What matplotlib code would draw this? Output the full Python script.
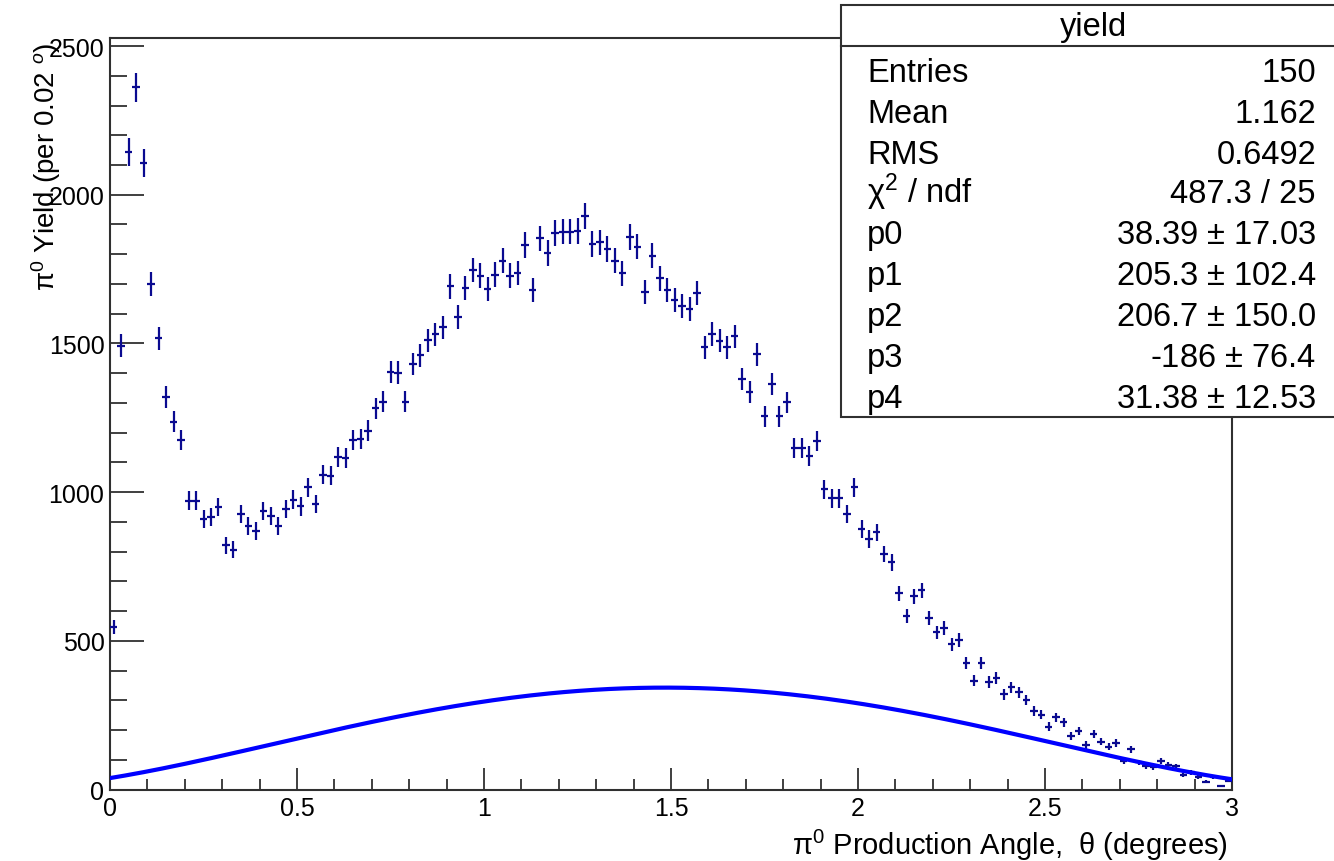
import numpy as np
import matplotlib
matplotlib.use("Agg")
import matplotlib.pyplot as plt
from matplotlib.patches import Rectangle
from matplotlib.lines import Line2D
from matplotlib.ticker import MultipleLocator

plt.rcParams["font.family"] = ["Liberation Sans", "DejaVu Sans"]
plt.rcParams["mathtext.fontset"] = "custom"
plt.rcParams["mathtext.rm"] = "Liberation Sans"
plt.rcParams["mathtext.it"] = "Liberation Sans:italic"
plt.rcParams["mathtext.bf"] = "Liberation Sans:bold"

# pi0 yield per 0.02 degree bin, 0 to 3 degrees
bin_width = 0.02
bin_low, bin_high = 0.0, 3.0
yield_counts = [
    546, 1492, 2143, 2361, 2107, 1700, 1517, 1319, 1237, 1175,
    971, 971, 910, 916, 950, 822, 807, 926, 887, 870,
    937, 921, 887, 943, 975, 952, 1016, 960, 1059, 1055,
    1117, 1114, 1175, 1178, 1207, 1282, 1304, 1405, 1402, 1304,
    1430, 1460, 1510, 1530, 1554, 1692, 1590, 1687, 1747, 1728,
    1683, 1731, 1778, 1728, 1737, 1831, 1680, 1853, 1804, 1871,
    1876, 1876, 1879, 1929, 1834, 1840, 1817, 1778, 1736, 1857,
    1825, 1674, 1795, 1719, 1680, 1647, 1625, 1616, 1669, 1487,
    1532, 1509, 1487, 1524, 1380, 1336, 1464, 1255, 1364, 1255,
    1302, 1148, 1148, 1122, 1171, 1010, 979, 979, 926, 1016,
    876, 842, 865, 792, 764, 660, 584, 650, 670, 576,
    528, 542, 489, 503, 425, 366, 425, 362, 375, 320,
    344, 327, 302, 265, 252, 211, 243, 226, 181, 196,
    150, 187, 161, 144, 156, 97, 136, 91, 78, 75,
    97, 82, 78, 49, 58, 41, 26, 43, 13, 30,
]

# pol4 fit parameters
fit_params = [38.39, 205.3, 206.7, -186.0, 31.38]

stat_title = "yield"
stat_labels = ["Entries", "Mean", "RMS", r"$\mathrm{\chi}^{2}$ / ndf",
               "p0", "p1", "p2", "p3", "p4"]
stat_values = ["150", "1.162", "0.6492", "487.3 / 25",
               r"38.39 $\pm$ 17.03", r"205.3 $\pm$ 102.4", r"206.7 $\pm$ 150.0",
               r"-186 $\pm$ 76.4", r"31.38 $\pm$ 12.53"]

W, H = 1334, 862
fig = plt.figure(figsize=(W / 100, H / 100), dpi=100)
fig.patch.set_facecolor("white")


def fx(px):
    return px / W


def fy(py):
    return 1 - py / H


x0, x1 = 110, 1232
ytop, ybot = 39.3, 790.5
ax = fig.add_axes([fx(x0), fy(ybot), (x1 - x0) / W, (ybot - ytop) / H])

counts = np.array(yield_counts, dtype=float)
centers = bin_low + bin_width * (np.arange(len(counts)) + 0.5)
ax.errorbar(centers, counts, yerr=np.sqrt(counts), xerr=bin_width / 2,
            fmt="none", ecolor="#0a0a90", elinewidth=1.6, capsize=0, zorder=3)

xf = np.linspace(bin_low, bin_high, 300)
yf = np.polyval(fit_params[::-1], xf)
ax.plot(xf, yf, color="#0000ff", lw=3.0, zorder=4)

ax.set_xlim(bin_low, bin_high)
ax.set_ylim(0, 2526)

frame_col = "#303030"
for s in ax.spines.values():
    s.set_color(frame_col)
    s.set_linewidth(1.5)

ax.xaxis.set_major_locator(MultipleLocator(0.5))
ax.xaxis.set_minor_locator(MultipleLocator(0.1))
ax.yaxis.set_major_locator(MultipleLocator(500))
ax.yaxis.set_minor_locator(MultipleLocator(100))
ax.set_xticks([0, 0.5, 1, 1.5, 2, 2.5, 3])
ax.set_xticklabels(["0", "0.5", "1", "1.5", "2", "2.5", "3"])
ax.tick_params(axis="x", which="major", direction="in", length=16.2, width=1.3,
               color=frame_col, labelsize=18, pad=5, top=False)
ax.tick_params(axis="x", which="minor", direction="in", length=8.1, width=1.3,
               color=frame_col, top=False)
ax.tick_params(axis="y", which="major", direction="in", length=24.3, width=1.3,
               color=frame_col, labelsize=18, pad=4, right=False)
ax.tick_params(axis="y", which="minor", direction="in", length=12.1, width=1.3,
               color=frame_col, right=False)

fig.text(fx(1228), fy(855), r"$\mathrm{\pi}^{0}$ Production Angle,  $\mathrm{\theta}$ (degrees)",
         ha="right", va="baseline", fontsize=21)
fig.text(fx(46), fy(43), r"$\mathrm{\pi}^{0}$ Yield (per 0.02 $^{o}$)",
         ha="center", va="top", rotation=90, fontsize=20)

# statistics box
box_l, box_t, box_b, head_y = 841, 6, 418, 47
fig.add_artist(Rectangle((fx(box_l), fy(box_b)), (W + 10 - box_l) / W, (box_b - box_t) / H,
                         transform=fig.transFigure, facecolor="white",
                         edgecolor=frame_col, lw=1.5, zorder=10))
fig.add_artist(Line2D([fx(box_l), fx(W + 5)], [fy(head_y), fy(head_y)],
                      transform=fig.transFigure, color=frame_col, lw=1.5, zorder=11))
fig.text(fx(1093), fy(36), stat_title, ha="center", va="baseline", fontsize=23.5, zorder=12)
row_base = [82, 123, 164, 203, 244, 285, 326, 367, 408]
for lab, val, yb in zip(stat_labels, stat_values, row_base):
    fig.text(fx(867), fy(yb), lab, ha="left", va="baseline", fontsize=23.5, zorder=12)
    fig.text(fx(1316), fy(yb), val, ha="right", va="baseline", fontsize=23.5, zorder=12)

fig.savefig("out.png", dpi=100, facecolor="white")
